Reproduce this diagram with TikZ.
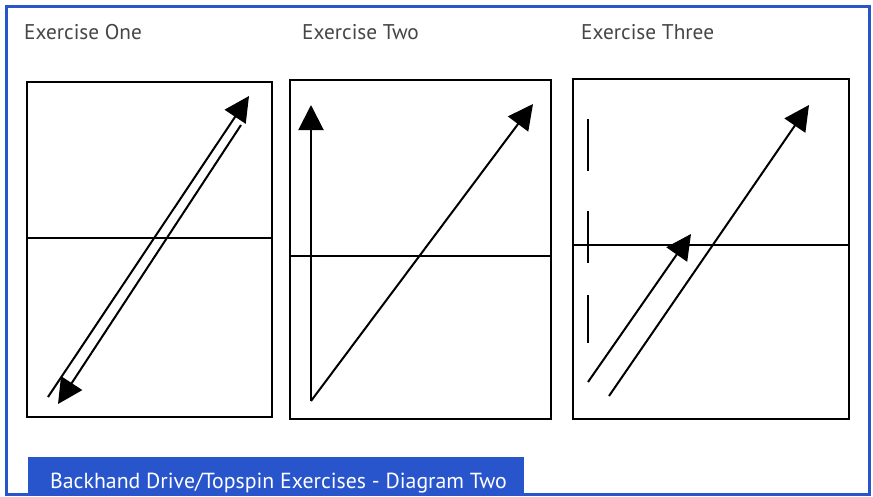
\documentclass[tikz,border=0pt]{standalone}
\usepackage{fontspec}
\setmainfont{PT Sans}
\usetikzlibrary{arrows.meta}
\definecolor{frameblue}{RGB}{40,84,204}
\definecolor{titlegray}{RGB}{70,70,70}
\tikzset{
  court/.style={draw=black, line width=1.6pt},
  netline/.style={draw=black, line width=1.6pt},
  shot/.style={draw=black, line width=2pt, -{Triangle[length=25pt,width=25pt]}},
  plain/.style={draw=black, line width=2pt},
  title/.style={anchor=base west, inner sep=0pt, text=titlegray, font=\fontsize{21.3}{24}\selectfont},
  bannertext/.style={anchor=base west, inner sep=0pt, text=white, font=\fontsize{21.8}{25}\selectfont},
}
\begin{document}
\begin{tikzpicture}[x=1pt,y=-1pt]
\useasboundingbox (0,0) rectangle (873,496);
\fill[white] (0,0) rectangle (873,496);
% outer frame
\draw[frameblue, line width=3pt] (6.5,6) rectangle (869.5,494.5);
% banner
\fill[frameblue] (28,457) rectangle (524,496);
\node[bannertext] (banner) at (50,488) {Backhand Drive/Topspin Exercises - Diagram Two};
% titles
\node[title] (t1) at (24,39) {Exercise One};
\node[title] (t2) at (302,39) {Exercise Two};
\node[title] (t3) at (581,39) {Exercise Three};
% ---- Exercise One ----
\draw[court] (27,82) rectangle (272,417);
\coordinate (n1l) at (27,238); \coordinate (n1r) at (272,238);
\draw[netline] (n1l) -- (n1r);
\coordinate (a1s) at (48,397); \coordinate (a1e) at (249,96);
\draw[shot] (a1s) -- (a1e);
\coordinate (b1s) at (241,125); \coordinate (b1e) at (58,404);
\draw[shot] (b1s) -- (b1e);
% ---- Exercise Two ----
\draw[court] (290,80) rectangle (551,419);
\coordinate (n2l) at (290,256); \coordinate (n2r) at (551,256);
\draw[netline] (n2l) -- (n2r);
\coordinate (p2) at (311,401);
\coordinate (v2) at (311,105);
\coordinate (d2) at (533,104);
\draw[shot] (p2) -- (v2);
\draw[shot] (p2) -- (d2);
% ---- Exercise Three ----
\draw[court] (573,79) rectangle (849,419);
\coordinate (n3l) at (573,245); \coordinate (n3r) at (849,245);
\draw[netline] (n3l) -- (n3r);
\coordinate (c1s) at (588,119); \coordinate (c1e) at (588,171);
\coordinate (c2s) at (588,211); \coordinate (c2e) at (588,263);
\coordinate (c3s) at (588,295); \coordinate (c3e) at (588,343);
\draw[plain] (c1s) -- (c1e);
\draw[plain] (c2s) -- (c2e);
\draw[plain] (c3s) -- (c3e);
\coordinate (s3s) at (588,382); \coordinate (s3e) at (691,234);
\draw[shot] (s3s) -- (s3e);
\coordinate (l3s) at (609,396); \coordinate (l3e) at (809,105);
\draw[shot] (l3s) -- (l3e);
\end{tikzpicture}
\end{document}
